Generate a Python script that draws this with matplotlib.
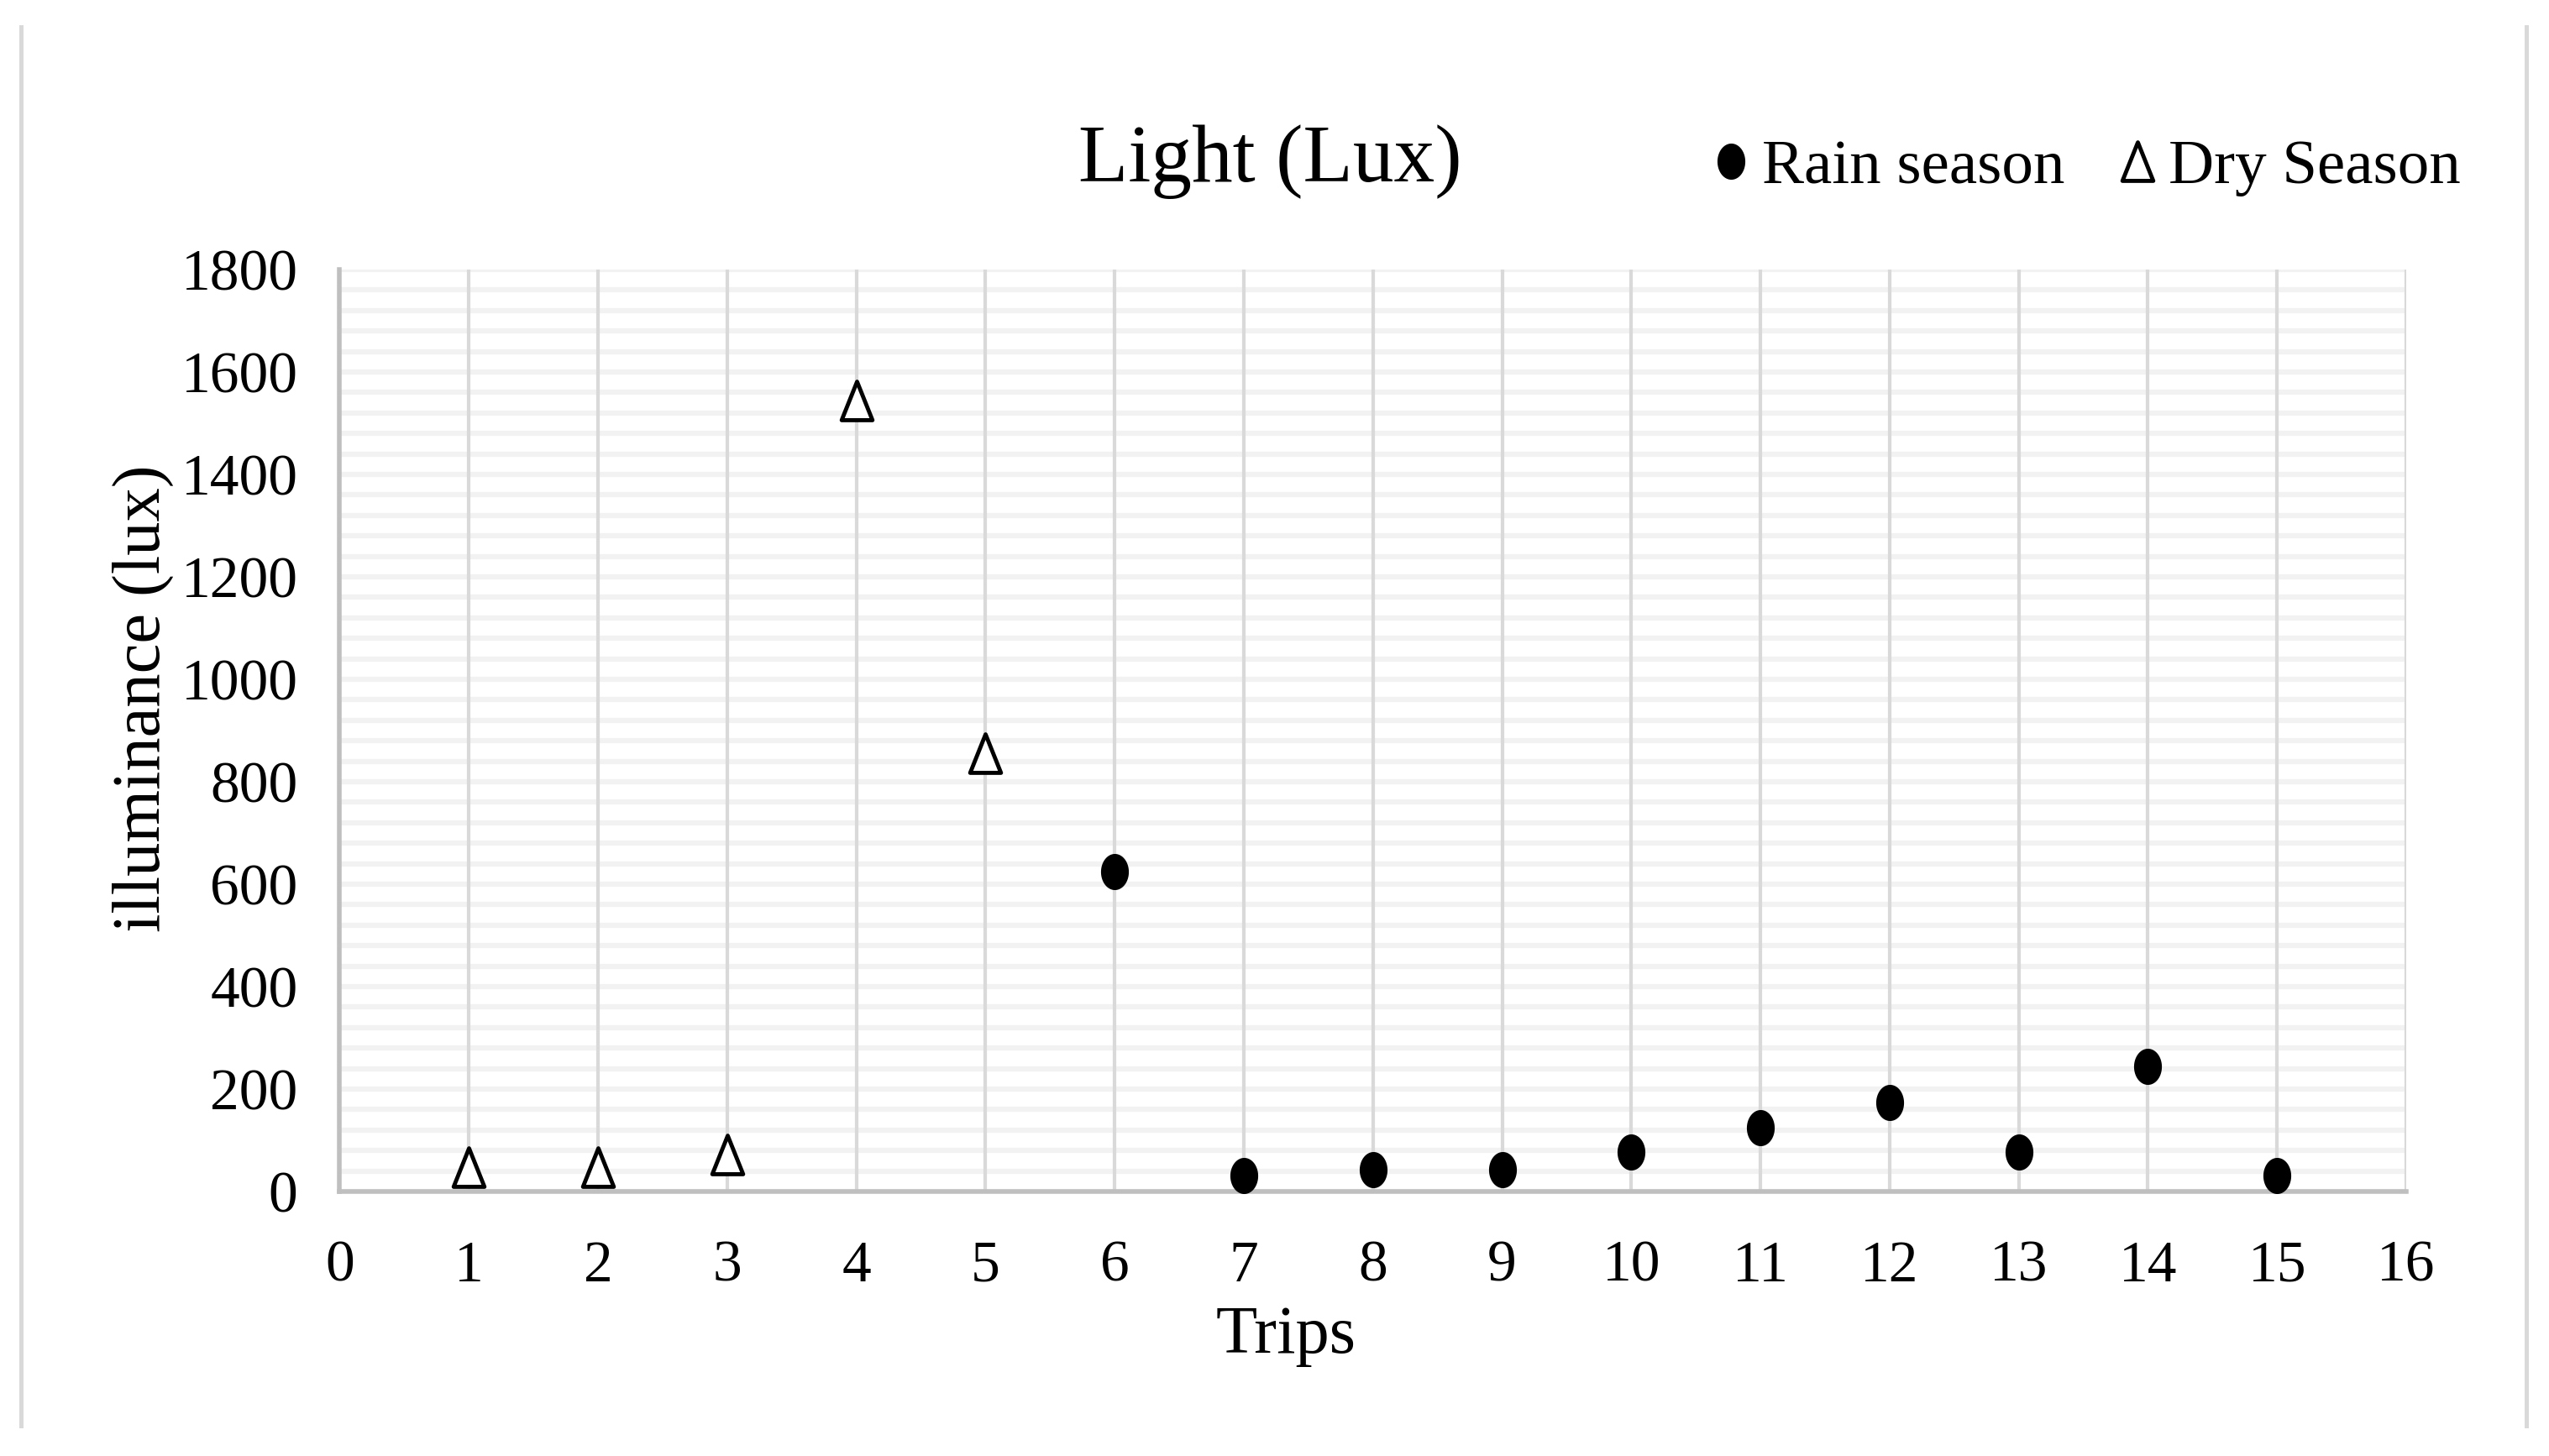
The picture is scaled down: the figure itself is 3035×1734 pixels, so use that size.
import matplotlib
matplotlib.use("Agg")
import matplotlib.pyplot as plt
import numpy as np
from matplotlib.path import Path
from matplotlib.lines import Line2D

# --- data ---
dry_trips = [1, 2, 3, 4, 5]
dry_lux = [48, 48, 72, 1545, 856]
rain_trips = [6, 7, 8, 9, 10, 11, 12, 13, 14, 15]
rain_lux = [625, 31, 42, 42, 77, 125, 173, 77, 244, 31]

x_ticks = list(range(0, 17))
y_ticks = list(range(0, 1801, 200))
y_minor = list(range(0, 1801, 40))

title = "Light (Lux)"
x_title = "Trips"
y_title = "illuminance (lux)"
rain_name = "Rain season"
dry_name = "Dry Season"

plt.rcParams['font.family'] = ['Liberation Serif', 'DejaVu Serif']

# the source picture is squeezed sideways, so the markers are a bit tall
t = np.linspace(0, 2 * np.pi, 80)
dot_marker = Path(np.column_stack([0.77 * np.cos(t), np.sin(t)]), closed=True)
tri_marker = Path([(0, 1), (-0.8, -1), (0.8, -1), (0, 1)], closed=True)

W, H = 3035, 1734
fig = plt.figure(figsize=(W / 100, H / 100), dpi=100)

# plot area in pixels: x 404..2865, y 321..1419
left, right, top, bottom = 404.5, 2865, 321, 1419
ax = fig.add_axes([left / W, (H - bottom) / H, (right - left) / W, (bottom - top) / H])
ax.set_xlim(0, 16)
ax.set_ylim(0, 1800)
ax.set_xticks(x_ticks)
ax.set_yticks(y_ticks)
ax.set_yticks(y_minor, minor=True)
ax.set_axisbelow(True)

# light horizontal lines underneath, darker vertical lines over them
ax.grid(axis='y', which='both', color='#f2f2f2', linewidth=4.5)
ax.vlines(x_ticks[1:], 0, 1800, colors='#d9d9d9', linewidth=3, zorder=1)

for side in ['top', 'right']:
    ax.spines[side].set_visible(False)
for side in ['left', 'bottom']:
    ax.spines[side].set_color('#bfbfbf')
    ax.spines[side].set_linewidth(4)
    ax.spines[side].set_zorder(1.5)

ax.tick_params(axis='both', which='both', length=0, labelsize=50, colors='black')
ax.tick_params(axis='y', pad=36)
ax.tick_params(axis='x', pad=42)

ax.plot(dry_trips, dry_lux, linestyle='None', marker=tri_marker, markersize=33,
        markerfacecolor='white', markeredgecolor='black', markeredgewidth=3.5,
        clip_on=False, zorder=3)
ax.plot(rain_trips, rain_lux, linestyle='None', marker=dot_marker, markersize=31,
        markerfacecolor='black', markeredgewidth=0, clip_on=False, zorder=3)

ax.set_xlabel(x_title, fontsize=58, va='center')
ax.xaxis.set_label_coords((1531 - left) / (right - left), (bottom - 1591) / (bottom - top))
ax.set_ylabel(y_title, fontsize=58, va='center')
ax.yaxis.set_label_coords((170 - left) / (right - left), (bottom - 832) / (bottom - top))

fig.text(1512 / W, 1 - 216 / H, title, fontsize=70, ha='center', va='baseline')

# legend up beside the title
h_rain = Line2D([], [], linestyle='None', marker=dot_marker, markersize=31,
                markerfacecolor='black', markeredgewidth=0)
h_dry = Line2D([], [], linestyle='None', marker=tri_marker, markersize=33,
               markerfacecolor='white', markeredgecolor='black', markeredgewidth=3.5)
fig.legend([h_rain, h_dry], [rain_name, dry_name], ncol=2, frameon=False,
           loc='center left', bbox_to_anchor=(2038 / W, 1 - 200 / H),
           fontsize=54, handlelength=0.6, handletextpad=0.2, columnspacing=0.85,
           borderpad=0, borderaxespad=0)

# light outer frame lines (left and right only)
for xp in [25, 3008]:
    fig.add_artist(Line2D([xp / W, xp / W], [1 - 32 / H, 1 - 1698 / H],
                          transform=fig.transFigure, color='#d9d9d9', linewidth=3.6))

fig.savefig("out.png", dpi=100, facecolor='white')
